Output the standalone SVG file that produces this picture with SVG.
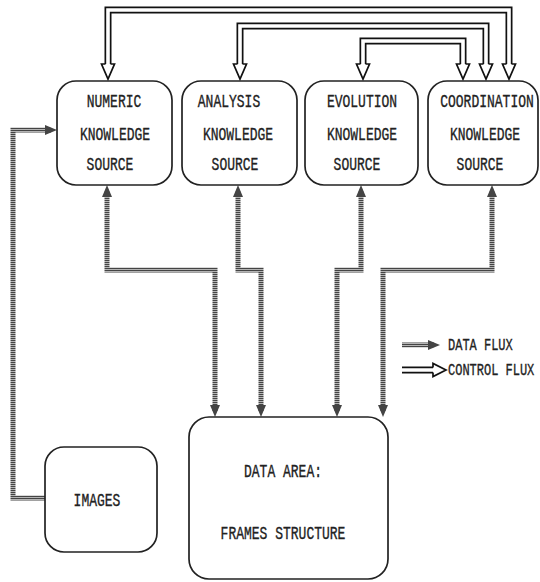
<svg xmlns="http://www.w3.org/2000/svg" width="540" height="582" viewBox="0 0 540 582">
<defs>
<style>
.box{fill:#fff;stroke:#222;stroke-width:1.7}
.t{font-family:"Liberation Mono","DejaVu Sans Mono",monospace;font-size:13px;fill:#222;stroke:#222;stroke-width:0.25;text-anchor:middle}
.lt{font-family:"Liberation Mono","DejaVu Sans Mono",monospace;font-size:12px;fill:#222;stroke:#222;stroke-width:0.25}
.data{fill:none;stroke:url(#hatch);stroke-width:5;stroke-linejoin:miter}
.cOut{fill:none;stroke:#111;stroke-width:7;stroke-linejoin:miter}
.cIn{fill:none;stroke:#fff;stroke-width:3.6;stroke-linejoin:miter}
.cHead{fill:#fff;stroke:#111;stroke-width:1.7;stroke-linejoin:miter}
</style>
<pattern id="hatch" width="3" height="2" patternUnits="userSpaceOnUse">
<rect width="3" height="2" fill="#b4b4b4"/><rect width="3" height="1" fill="#444"/>
</pattern>
<marker id="dArrow" markerUnits="userSpaceOnUse" markerWidth="14" markerHeight="12" refX="6" refY="6" orient="auto-start-reverse" viewBox="0 0 14 12">
<path d="M0,1 L12,6 L0,11 Z" fill="#444"/>
</marker>
</defs>

<g id="connectors">
<!-- control flux -->
<path class="cOut" d="M108,64 L108,10 L509,10 L509,64"/>
<path class="cIn" d="M108,65 L108,10 L509,10 L509,65"/>
<path class="cHead" d="M105.5,64 L101.5,64 L108,79 L114.5,64 L110.5,64"/>
<path class="cHead" d="M506.5,64 L502.5,64 L509,79 L515.5,64 L511.5,64"/>
<path class="cOut" d="M240,64 L240,26 L486,26 L486,64"/>
<path class="cIn" d="M240,65 L240,26 L486,26 L486,65"/>
<path class="cHead" d="M237.5,64 L233.5,64 L240,79 L246.5,64 L242.5,64"/>
<path class="cHead" d="M483.5,64 L479.5,64 L486,79 L492.5,64 L488.5,64"/>
<path class="cOut" d="M363,64 L363,41 L463,41 L463,64"/>
<path class="cIn" d="M363,65 L363,41 L463,41 L463,65"/>
<path class="cHead" d="M360.5,64 L356.5,64 L363,79 L369.5,64 L365.5,64"/>
<path class="cHead" d="M460.5,64 L456.5,64 L463,79 L469.5,64 L465.5,64"/>
<!-- data flux -->
<path class="data" d="M107,191 L107,270 L215,270 L215,411" marker-start="url(#dArrow)" marker-end="url(#dArrow)"/>
<path class="data" d="M238,191 L238,270 L261,270 L261,411" marker-start="url(#dArrow)" marker-end="url(#dArrow)"/>
<path class="data" d="M361,191 L361,270 L337,270 L337,411" marker-start="url(#dArrow)" marker-end="url(#dArrow)"/>
<path class="data" d="M383,411 L383,270 L492,270 L492,191" marker-start="url(#dArrow)" marker-end="url(#dArrow)"/>
<path class="data" d="M45,498 L13,498 L13,130 L51,130" marker-end="url(#dArrow)"/>
</g>

<g id="numeric">
<rect class="box" x="57" y="81" width="115" height="104" rx="19"/>
<text class="t" transform="translate(114,106.5) scale(1,1.45)">NUMERIC</text>
<text class="t" transform="translate(115,139.5) scale(1,1.45)">KNOWLEDGE</text>
<text class="t" transform="translate(110,169.5) scale(1,1.45)">SOURCE</text>
</g>
<g id="analysis">
<rect class="box" x="182" y="81" width="115" height="104" rx="19"/>
<text class="t" transform="translate(229,106.5) scale(1,1.45)">ANALYSIS</text>
<text class="t" transform="translate(238,139.5) scale(1,1.45)">KNOWLEDGE</text>
<text class="t" transform="translate(235,169.5) scale(1,1.45)">SOURCE</text>
</g>
<g id="evolution">
<rect class="box" x="305" y="81" width="113" height="104" rx="19"/>
<text class="t" transform="translate(362,106.5) scale(1,1.45)">EVOLUTION</text>
<text class="t" transform="translate(362,139.5) scale(1,1.45)">KNOWLEDGE</text>
<text class="t" transform="translate(357,169.5) scale(1,1.45)">SOURCE</text>
</g>
<g id="coordination">
<rect class="box" x="428" y="81" width="110" height="104" rx="19"/>
<text class="t" transform="translate(487,106.5) scale(1,1.45)">COORDINATION</text>
<text class="t" transform="translate(485,139.5) scale(1,1.45)">KNOWLEDGE</text>
<text class="t" transform="translate(480,169.5) scale(1,1.45)">SOURCE</text>
</g>
<g id="images">
<rect class="box" x="45" y="447" width="112" height="105" rx="19"/>
<text class="t" transform="translate(97,505.5) scale(1,1.45)">IMAGES</text>
</g>
<g id="data-area">
<rect class="box" x="189" y="417" width="199" height="162" rx="20"/>
<text class="t" transform="translate(283,476.5) scale(1,1.45)">DATA AREA:</text>
<text class="t" transform="translate(283,538.5) scale(1,1.45)">FRAMES STRUCTURE</text>
</g>
<g id="legend">
<path class="data" d="M402,345 L434,345" marker-end="url(#dArrow)"/>
<path class="cOut" d="M402,370 L433,370"/>
<path class="cIn" d="M401,370 L434,370"/>
<path class="cHead" d="M433,367.5 L433,363.5 L446,370 L433,376.5 L433,372.5"/>
<text class="lt" transform="translate(448,350) scale(1,1.4)">DATA FLUX</text>
<text class="lt" transform="translate(448,375) scale(1,1.4)">CONTROL FLUX</text>
</g>
</svg>
